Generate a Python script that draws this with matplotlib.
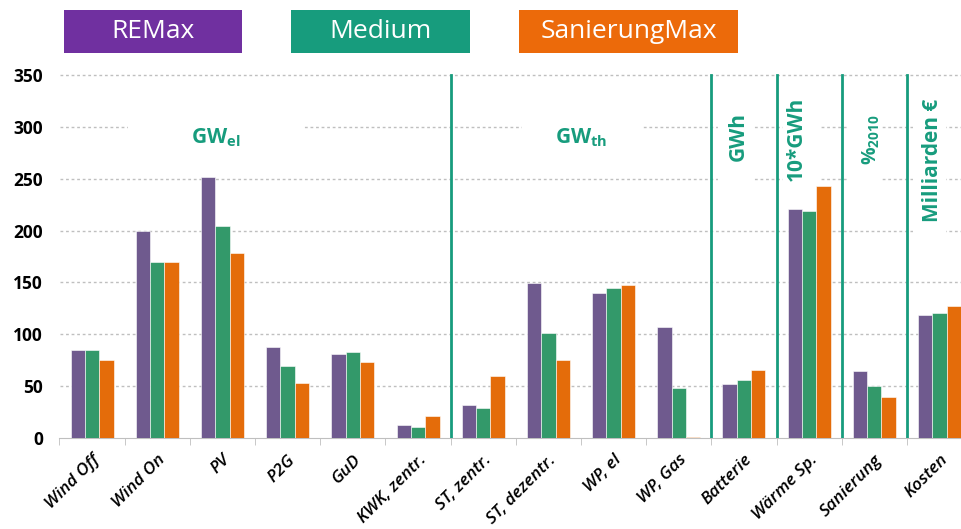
import matplotlib.pyplot as plt
import numpy as np
from matplotlib.patches import Rectangle

plt.rcParams['font.family'] = ['Open Sans', 'DejaVu Sans']

categories = ['Wind Off', 'Wind On', 'PV', 'P2G', 'GuD', 'KWK, zentr.',
              'ST, zentr.', 'ST, dezentr.', 'WP, el', 'WP, Gas',
              'Batterie', 'Wärme Sp.', 'Sanierung', 'Kosten']
remax = [85, 200, 252, 88, 81, 13, 32, 149, 140, 107, 52, 221, 65, 119]
medium = [85, 170, 204, 69, 83, 11, 29, 101, 145, 48, 56, 219, 50, 121]
sanierung = [75, 170, 178, 53, 73.5, 21, 60, 75, 148, 0.6, 66, 243, 40, 127]
series_names = ['REMax', 'Medium', 'SanierungMax']
yticks = [0, 50, 100, 150, 200, 250, 300, 350]

bar_colors = ['#6f5a8e', '#33996a', '#e46c0a']
legend_colors = ['#7030a0', '#179c7d', '#ec6a0a']
teal = '#179c7d'

fig = plt.figure(figsize=(9.61, 5.29), dpi=100)
ax = fig.add_axes([59.5 / 961, 1 - 438 / 529, 1 - 59.5 / 961, (438 - 73.5) / 529])

x = np.arange(len(categories))
w = 0.22
for i, vals in enumerate([remax, medium, sanierung]):
    ax.bar(x + (i - 1) * w, vals, w, color=bar_colors[i], zorder=3,
           edgecolor='white', linewidth=0.4)

ax.set_xlim(-0.5, 13.33)
ax.set_ylim(0, 351.5)

# grid
for yv in yticks[1:]:
    ax.axhline(yv, color='#bfbfbf', lw=1, ls=(0, (2, 2)), zorder=1, clip_on=False)

# separators between unit groups
for b in [5.5, 9.5, 10.5, 11.5, 12.5]:
    ax.axvline(b, color=teal, lw=2, zorder=4, ymax=0.997)

for s in ['top', 'right', 'left']:
    ax.spines[s].set_visible(False)
ax.spines['bottom'].set_color('#bfbfbf')

ax.set_yticks(yticks)
ax.set_yticklabels([str(v) for v in yticks], fontsize=12.5, fontweight='bold')
ax.tick_params(axis='y', length=0, pad=12)

ax.set_xticks(x)
ax.set_xticklabels(categories, rotation=45, ha='right', rotation_mode='anchor',
                   fontsize=12.5, style='italic', fontweight='semibold')
ax.tick_params(axis='x', length=0, pad=10)
ax.set_xticks(np.arange(-0.5, 13.5, 1), minor=True)
ax.tick_params(axis='x', which='minor', length=5, color='#bfbfbf', direction='out')

# unit labels with white backgrounds that interrupt the grid
def unit_box(x0, x1, y0, y1):
    ax.add_patch(Rectangle((x0, y0), x1 - x0, y1 - y0, facecolor='white',
                           edgecolor='none', zorder=2))

unit_box(0.55, 3.23, 280, 320)
ax.text(1.9, 290, r'GW$_{\mathregular{el}}$', color=teal, fontsize=15,
        fontweight='bold', ha='center', va='center', zorder=5)
unit_box(6.6, 8.45, 280, 320)
ax.text(7.5, 290, r'GW$_{\mathregular{th}}$', color=teal, fontsize=15,
        fontweight='bold', ha='center', va='center', zorder=5)
unit_box(9.6, 10.15, 240, 330)
ax.text(9.91, 291, 'GWh', color=teal, fontsize=15, fontweight='bold',
        rotation=90, ha='center', va='center', zorder=5)
unit_box(10.6, 11.15, 240, 330)
ax.text(10.81, 288, '10*GWh', color=teal, fontsize=15, fontweight='bold',
        rotation=90, ha='center', va='center', zorder=5)
unit_box(11.6, 12.1, 240, 330)
ax.text(11.96, 288, r'%$_{\mathregular{2010}}$', color=teal, fontsize=14,
        fontweight='bold', rotation=90, ha='center', va='center', zorder=5)
unit_box(12.6, 13.1, 190, 340)
ax.text(12.9, 268, 'Milliarden €', color=teal, fontsize=15, fontweight='bold',
        rotation=90, ha='center', va='center', zorder=5)

# legend boxes on top
box_x = [(64, 242), (291, 470), (519, 738)]
for (bx0, bx1), name, c in zip(box_x, series_names, legend_colors):
    fig.patches.append(Rectangle((bx0 / 961, 1 - 53 / 529), (bx1 - bx0) / 961,
                                 43 / 529, facecolor=c, edgecolor='none',
                                 transform=fig.transFigure, figure=fig))
    fig.text((bx0 + bx1) / 2 / 961, 1 - 31.5 / 529, name, color='white',
             fontsize=19, ha='center', va='center')

fig.savefig('out.png', dpi=100)
